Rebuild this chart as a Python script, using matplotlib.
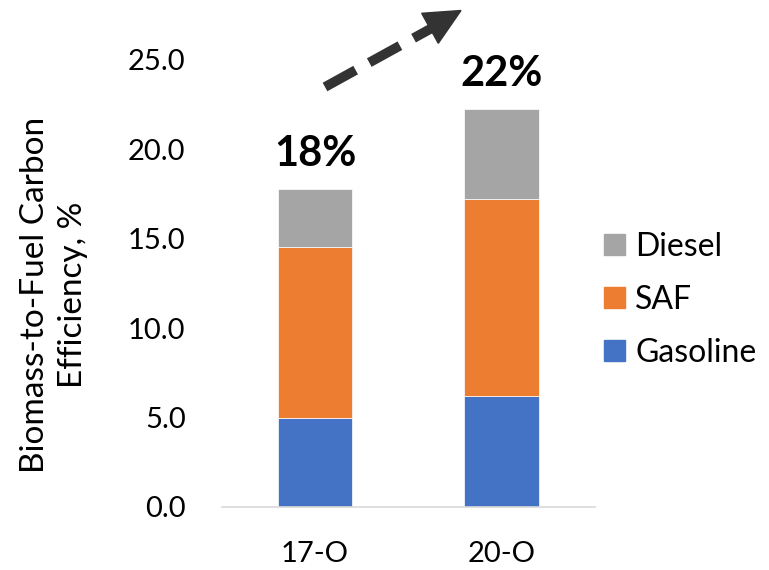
import matplotlib
matplotlib.use("Agg")
import matplotlib.pyplot as plt
from matplotlib.patches import Polygon, Patch
from matplotlib.lines import Line2D
import numpy as np

categories = ["17-O", "20-O"]
gasoline = [4.95, 6.2]
saf = [9.57, 11.03]
diesel = [3.26, 5.03]
yticks = [0, 5, 10, 15, 20, 25]

plt.rcParams['font.family'] = ['Lato', 'DejaVu Sans']

W, H = 769, 570
fig = plt.figure(figsize=(W/100, H/100), dpi=100)
ax = fig.add_axes([221.7/W, 1-506.7/H, (595-221.7)/W, (506.7-60)/H])

x = np.arange(len(categories))
c_gas, c_saf, c_die = "#4472C4", "#ED7D31", "#A5A5A5"
g = np.array(gasoline); s = np.array(saf); d = np.array(diesel)
ax.bar(x, g, width=0.4, color=c_gas, edgecolor='white', linewidth=0.5)
ax.bar(x, s, width=0.4, bottom=g, color=c_saf, edgecolor='white', linewidth=0.5)
ax.bar(x, d, width=0.4, bottom=g+s, color=c_die, edgecolor='white', linewidth=0.5)

totals = g + s + d
for xi, t in zip(x, totals):
    ax.text(xi, t + 1.95, f"{t:.0f}%", ha='center', va='center',
            fontsize=30, fontweight='bold', color='black')

ax.set_xlim(-0.5, 1.5)
ax.set_ylim(0, 25)
ax.set_xticks(x)
ax.set_xticklabels(categories, fontsize=21)
ax.set_yticks(yticks)
ax.set_yticklabels([f"{v:.1f}" for v in yticks], fontsize=21)
ax.tick_params(axis='y', length=0, pad=26)
ax.tick_params(axis='x', length=0, pad=25)
for sp in ['top', 'right', 'left']:
    ax.spines[sp].set_visible(False)
ax.spines['bottom'].set_color('#D9D9D9')
ax.spines['bottom'].set_linewidth(1.2)
ax.set_ylabel("Biomass-to-Fuel Carbon\nEfficiency, %", fontsize=24,
              linespacing=1.35)
ax.yaxis.set_label_coords(-0.358, 0.475)

handles = [Patch(color=c_die), Patch(color=c_saf), Patch(color=c_gas)]
fig.legend(handles, ["Diesel", "SAF", "Gasoline"], loc='center left',
           bbox_to_anchor=(604/W, 1-300/H), frameon=False, fontsize=23,
           handlelength=0.65, handleheight=0.65, handletextpad=0.33,
           labelspacing=0.72, borderaxespad=0, borderpad=0)

# trend arrow (decoration)
def fp(px, py):
    return (px / W, 1 - py / H)
x0, y0 = fp(325, 87)
x1, y1 = fp(432, 28)
fig.add_artist(Line2D([x0, x1], [y0, y1], transform=fig.transFigure,
                      color='#333333', linewidth=7, solid_capstyle='butt',
                      dash_capstyle='butt', dashes=(3.6, 1.6)))
head = Polygon([fp(421.7, 13.3), fp(461, 10.5), fp(438.3, 43.3)], closed=True,
               transform=fig.transFigure, color='#333333')
fig.add_artist(head)

fig.savefig("out.png", dpi=100)
